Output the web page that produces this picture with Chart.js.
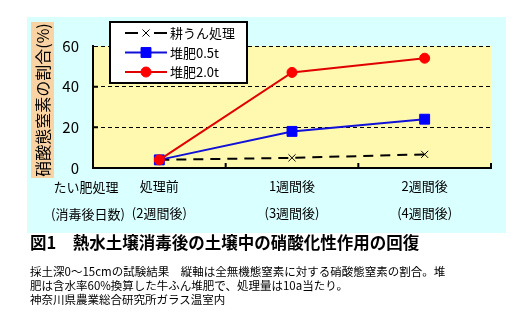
<!DOCTYPE html>
<html lang="ja">
<head>
<meta charset="utf-8">
<title>熱水土壌消毒後の土壌中の硝酸化性作用の回復</title>
<script src="https://cdn.jsdelivr.net/npm/chart.js@4/dist/chart.umd.min.js"></script>
<style>
  html, body { margin: 0; padding: 0; background: #fff; }
  body { width: 531px; height: 335px; position: relative; overflow: hidden;
         font-family: "Noto Sans CJK JP", sans-serif; color: #000; }
  #wrap { position: absolute; left: 0; top: 0; width: 531px; height: 235px; }
  #title { position: absolute; left: 30px; top: 231px; font-size: 16.5px; font-weight: bold;
           line-height: 22px; white-space: nowrap; }
  #note { position: absolute; left: 30px; top: 264px; font-size: 11.5px; line-height: 14px;
          white-space: nowrap; }
</style>
</head>
<body>
<div id="wrap"><canvas id="chart" width="531" height="235"></canvas></div>
<div id="title">図1　熱水土壌消毒後の土壌中の硝酸化性作用の回復</div>
<div id="note">採土深0～15cmの試験結果　縦軸は全無機態窒素に対する硝酸態窒素の割合。堆<br>肥は含水率60%換算した牛ふん堆肥で、処理量は10a当たり。<br>神奈川県農業総合研究所ガラス温室内</div>
<script>
// x axis: two label rows per category
const stageLabels = ["処理前", "1週間後", "2週間後"];
const daysLabels = ["(2週間後)", "(3週間後)", "(4週間後)"];
const rowTitles = ["たい肥処理", "(消毒後日数)"];

// nitrate-N share (%)
const tillage = [4, 5, 6.7];
const compost05 = [4, 18, 24];
const compost20 = [4, 47, 54];

const seriesNames = ["耕うん処理", "堆肥0.5t", "堆肥2.0t"];
const yTitle = "硝酸態窒素の割合(%)";
const yMin = 0, yMax = 60, yStep = 20;

const FONT = "'Noto Sans CJK JP', sans-serif";
Chart.defaults.font.family = FONT;
Chart.defaults.color = "#000";

const categories = stageLabels.map((s, i) => [s, daysLabels[i]]);

// backgrounds, y title box, row titles under the axis
const backdrop = {
  id: "backdrop",
  beforeDraw(chart) {
    const { ctx, chartArea: a } = chart;
    ctx.save();
    ctx.fillStyle = "#d9ffff";
    ctx.fillRect(27, 17, 479, 216);
    ctx.fillStyle = "#fff9b0";
    ctx.fillRect(a.left, a.top, a.right - a.left, a.bottom - a.top);

    ctx.fillStyle = "#f9d3a3";
    ctx.fillRect(31, 22, 23, 156);
    ctx.fillStyle = "#000";
    ctx.font = "16px " + FONT;
    ctx.textAlign = "center";
    ctx.textBaseline = "middle";
    ctx.save();
    ctx.translate(42.5, 100);
    ctx.rotate(-Math.PI / 2);
    ctx.fillText(yTitle, 0, 0);
    ctx.restore();

    ctx.font = "13px " + FONT;
    ctx.fillText(rowTitles[0], 86, 187);
    ctx.fillText(rowTitles[1], 88, 214);
    ctx.restore();
  },
};

// short inward ticks + the boxed legend
const overlay = {
  id: "overlay",
  afterDatasetsDraw(chart) {
    const { ctx, chartArea: a } = chart;
    const xs = chart.scales.x, ys = chart.scales.y;
    ctx.save();
    ctx.strokeStyle = "#000";
    ctx.lineWidth = 2;
    const step = xs.getPixelForValue(1) - xs.getPixelForValue(0);
    ctx.beginPath();
    for (let i = 0; i < categories.length; i++) {
      const x = xs.getPixelForValue(i) + step / 2;
      ctx.moveTo(x, a.bottom);
      ctx.lineTo(x, a.bottom - 5);
    }
    for (let v = yStep; v < yMax; v += yStep) {
      const y = ys.getPixelForValue(v);
      ctx.moveTo(a.left, y);
      ctx.lineTo(a.left + 5, y);
    }
    ctx.stroke();

    // legend
    ctx.fillStyle = "#fff";
    ctx.fillRect(110, 22, 137, 61);
    ctx.strokeRect(110, 22, 137, 61);
    ctx.font = "13px " + FONT;
    ctx.textAlign = "left";
    ctx.textBaseline = "middle";
    chart.data.datasets.forEach((ds, i) => {
      const y = 33 + i * 19.5;
      ctx.strokeStyle = ds.borderColor;
      ctx.lineWidth = 2;
      ctx.beginPath();
      if (ds.borderDash && ds.borderDash.length) {
        ctx.moveTo(125, y); ctx.lineTo(138, y);
        ctx.moveTo(154, y); ctx.lineTo(167, y);
      } else {
        ctx.moveTo(125, y); ctx.lineTo(167, y);
      }
      ctx.stroke();
      ctx.fillStyle = ds.pointBackgroundColor;
      ctx.strokeStyle = ds.pointBorderColor;
      ctx.lineWidth = ds.pointBorderWidth;
      Chart.helpers.drawPoint(ctx, {
        pointStyle: ds.pointStyle,
        radius: ds.pointRadius,
        borderWidth: ds.pointBorderWidth,
        rotation: 0,
      }, 146, y);
      ctx.fillStyle = "#000";
      ctx.fillText(ds.label, 170, y + 0.5);
    });
    ctx.restore();
  },
};

new Chart(document.getElementById("chart"), {
  type: "line",
  data: {
    labels: categories,
    datasets: [
      {
        label: seriesNames[0],
        data: tillage,
        borderColor: "#000",
        borderWidth: 2,
        borderDash: [10, 7],
        pointStyle: "crossRot",
        pointRadius: 5,
        pointBorderColor: "#000",
        pointBackgroundColor: "#000",
        pointBorderWidth: 1,
        order: 2,
      },
      {
        label: seriesNames[1],
        data: compost05,
        borderColor: "#1010d8",
        borderWidth: 2,
        pointStyle: "rect",
        pointRadius: 7,
        pointBorderColor: "#0000ff",
        pointBackgroundColor: "#0000ff",
        pointBorderWidth: 1,
        order: 1,
      },
      {
        label: seriesNames[2],
        data: compost20,
        borderColor: "#e00000",
        borderWidth: 2,
        pointStyle: "circle",
        pointRadius: 5,
        pointBorderColor: "#ff0000",
        pointBackgroundColor: "#ff0000",
        pointBorderWidth: 1,
        order: 0,
      },
    ],
  },
  options: {
    responsive: false,
    animation: false,
    events: [],
    layout: { padding: { left: 0, top: 46, right: 40, bottom: 0 } },
    elements: { line: { tension: 0 } },
    plugins: { legend: { display: false }, tooltip: { enabled: false } },
    scales: {
      x: {
        offset: true,
        grid: { display: false, drawTicks: false },
        border: { color: "#000", width: 2 },
        ticks: {
          color: "#000",
          font: { size: 13, lineHeight: "27px" },
          padding: 5,
          maxRotation: 0,
          autoSkip: false,
        },
        afterFit(s) { s.height = 67; },
      },
      y: {
        min: yMin,
        max: yMax,
        ticks: { stepSize: yStep, color: "#000", font: { size: 15 }, padding: 14 },
        grid: {
          color: (c) => (c.tick && c.tick.value === yMin ? "rgba(0,0,0,0)" : "#000"),
          lineWidth: 1,
          drawTicks: false,
        },
        border: { color: "#000", width: 2, dash: [4, 3] },
        afterFit(s) { s.width = 93; },
      },
    },
  },
  plugins: [backdrop, overlay],
});
</script>
</body>
</html>
